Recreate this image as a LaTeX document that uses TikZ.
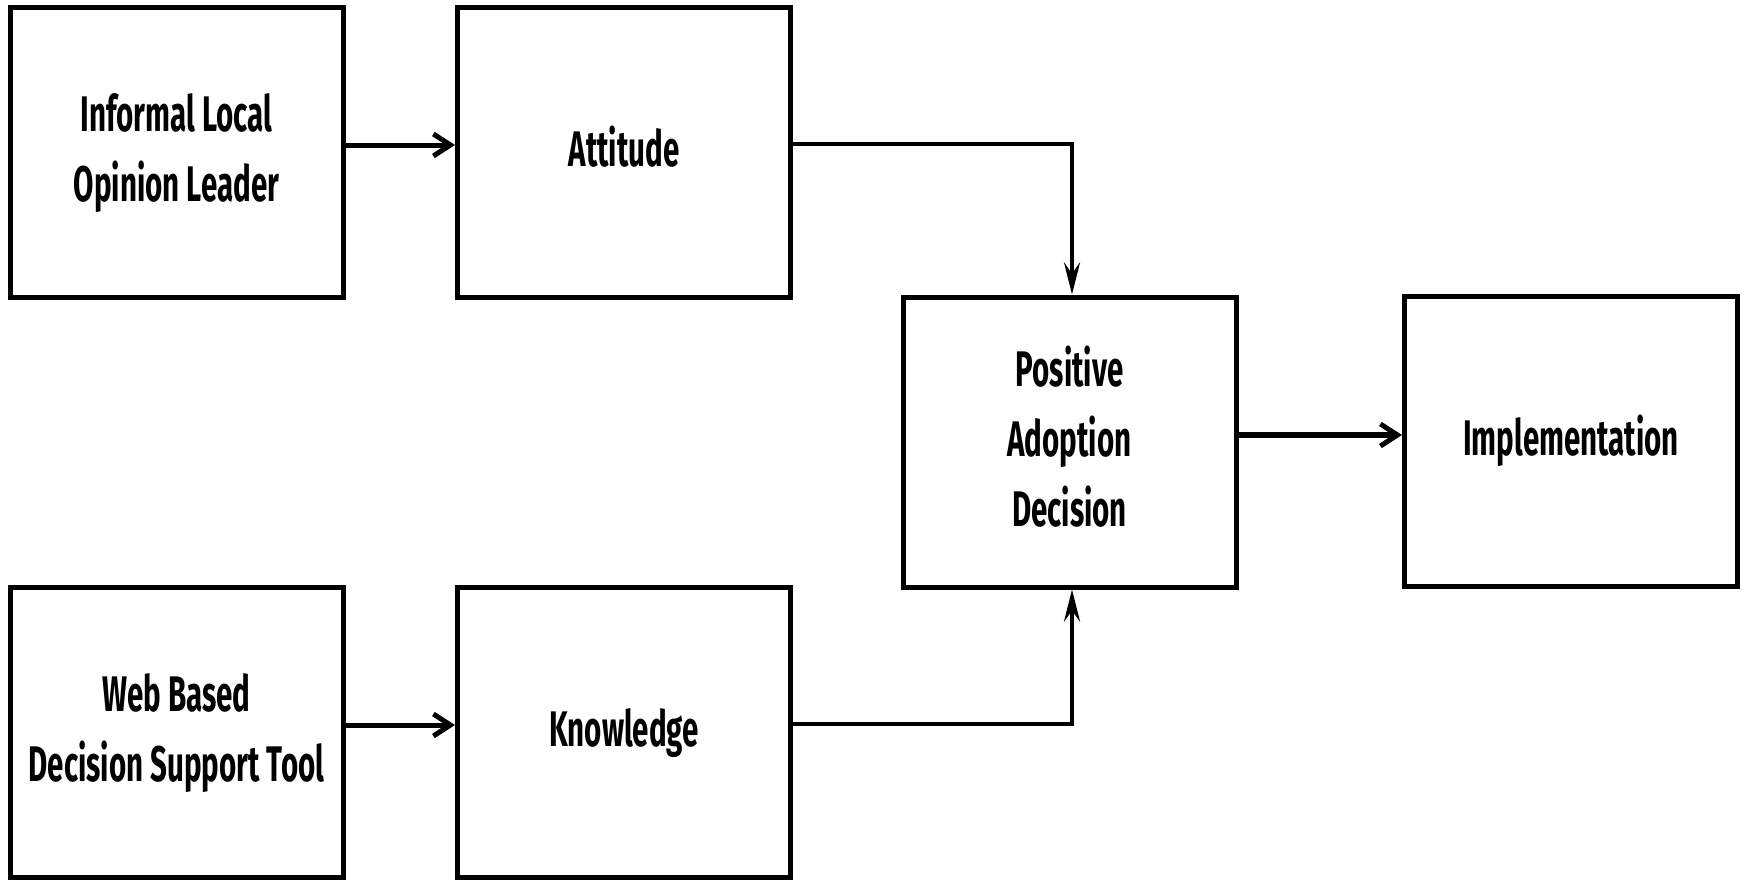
\documentclass[tikz,border=0pt]{standalone}
\usepackage{fontspec}
\setmainfont{Fira Sans}[FakeStretch=0.59,UprightFont=* Medium,BoldFont=* Bold]
\usetikzlibrary{arrows.meta}
\newcommand{\boxtext}[1]{\raisebox{1pt}{\begin{tabular}{@{}c@{}}#1\end{tabular}}}
\begin{document}
\begin{tikzpicture}[x=1pt,y=-1pt,
  box/.style={draw,line width=5pt,minimum width=333pt,minimum height=290pt,inner sep=0pt,
    align=center,font=\fontsize{50}{70}\selectfont\bfseries},
  conn/.style={line width=5pt,-{Straight Barb[length=17pt,width=22pt,line width=5pt]}},
  vconn/.style={line width=4.5pt,-{Stealth[length=32pt,width=16pt,inset=11pt]}}]
\useasboundingbox (0,0) rectangle (1747,879);
\fill[white] (0,0) rectangle (1747,879);
\node[box] (b1) at (176.5,152) {\boxtext{Informal Local\\Opinion Leader}};
\node[box] (b2) at (624,152) {\boxtext{Attitude}};
\node[box] (b3) at (1069.5,442) {\boxtext{Positive\\Adoption\\Decision}};
\node[box] (b4) at (1571,441) {\boxtext{Implementation}};
\node[box] (b5) at (176.5,732) {\boxtext{Web Based\\Decision Support Tool}};
\node[box] (b6) at (624,732) {\boxtext{Knowledge}};
\coordinate (a1) at ([yshift=7pt]b1.east);
\coordinate (a2) at ([yshift=8pt]b2.east);
\coordinate (a3) at ([yshift=7pt]b3.east);
\coordinate (a5) at ([yshift=7pt]b5.east);
\coordinate (a6) at ([yshift=8pt]b6.east);
\coordinate (t3) at ([xshift=2.5pt]b3.north);
\coordinate (s3) at ([xshift=2.5pt]b3.south);
\draw[conn] (a1) -- (a1 -| b2.west);
\draw[conn] (a5) -- (a5 -| b6.west);
\draw[conn,line width=6pt] (a3) -- (a3 -| b4.west);
\draw[vconn] (a2) -| (t3);
\draw[vconn] (a6) -| (s3);
\end{tikzpicture}
\end{document}
